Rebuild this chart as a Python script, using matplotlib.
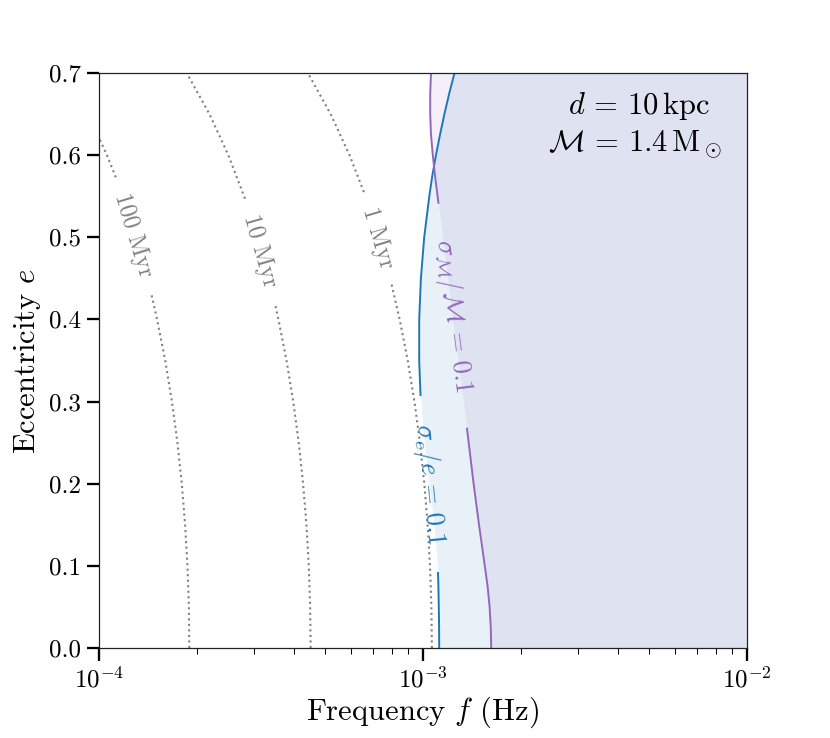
import numpy as np
import matplotlib
matplotlib.use("Agg")
import matplotlib.pyplot as plt

plt.rcParams["font.family"] = "serif"
plt.rcParams["font.serif"] = ["cmr10", "DejaVu Serif"]
plt.rcParams["mathtext.fontset"] = "cm"
plt.rcParams["axes.formatter.use_mathtext"] = True

# ---- data (frequency in mHz, eccentricity) ----
e_100myr = [0, .05, .1, .15, .2, .25, .3, .35, .4, .432, .45, .5, .55, .573, .6, .65, .7]
f_100myr = [0.190, 0.1894, 0.1875, 0.1844, 0.1801, 0.1746, 0.1679, 0.1601, 0.1511,
            0.1449, 0.1412, 0.1302, 0.1184, 0.1127, 0.1058, 0.0926, 0.0787]

e_10myr = [0, .05, .1, .15, .2, .25, .3, .35, .4, .42, .45, .5, .547, .6, .65, .7]
f_10myr = [0.450, 0.4485, 0.4441, 0.4368, 0.4265, 0.4135, 0.3976, 0.3791, 0.3579,
           0.3488, 0.3344, 0.3085, 0.2823, 0.2507, 0.2192, 0.1865]

e_1myr = [0, .05, .1, .15, .2, .25, .3, .35, .4, .444, .5, .555, .6, .65, .7]
f_1myr = [1.065, 1.0615, 1.0510, 1.0337, 1.0094, 0.9785, 0.9410, 0.8971, 0.8471,
          0.7984, 0.7301, 0.6571, 0.5932, 0.5188, 0.4413]

e_sig_e = [0, .025, .05, .075, .0913, .15, .2, .25, .308, .35, .4, .45, .5, .55,
           .575, .6, .625, .65, .675, .7]
f_sig_e = [1.122, 1.1212, 1.1188, 1.1157, 1.1125, 1.0812, 1.0458, 1.0086, 0.9824,
           0.9734, 0.9734, 0.9852, 1.0086, 1.0458, 1.0683, 1.0966, 1.1287, 1.1642,
           1.2047, 1.2510]

e_sig_m = [0, .025, .05, .075, .1, .15, .2, .267, .3, .35, .4, .45, .5, .542, .575,
           .6, .625, .65, .675, .7]
f_sig_m = [1.6236, 1.6190, 1.6053, 1.5827, 1.5515, 1.4889, 1.4328, 1.3671, 1.3326,
           1.2825, 1.2360, 1.1911, 1.1495, 1.1157, 1.0890, 1.0722, 1.0585, 1.0525,
           1.0525, 1.0585]

time_labels = ["100 Myr", "10 Myr", "1 Myr"]
label_sig_e = r"$\sigma_e/e\,=\,0.1$"
label_sig_m = r"$\sigma_\mathcal{M}/\mathcal{M}\,=\,0.1$"
annot_1 = r"$d\,=\,10\,\mathrm{kpc}$"
annot_2 = r"$\mathcal{M}\,=\,1.4\,\mathrm{M}_\odot$"

# label gaps (eccentricity range where the line is broken for its label)
gaps_time = [(0.432, 0.573), (0.42, 0.547), (0.444, 0.555)]
gap_sig_e = (0.0913, 0.308)
gap_sig_m = (0.267, 0.542)

blue = "#1f77b4"
purple = "#9467bd"
grey = "#808080"

fig = plt.figure(figsize=(8.3, 7.38), dpi=100)
ax = fig.add_axes([99 / 830, 1 - 648 / 738, 648 / 830, 575 / 738])
ax.set_xscale("log")
ax.set_xlim(1e-4, 1e-2)
ax.set_ylim(0, 0.7)

# fills
for e, f, c in [(e_sig_e, f_sig_e, blue), (e_sig_m, f_sig_m, purple)]:
    ax.fill_betweenx(np.array(e), np.array(f) * 1e-3, 1e-2, color=c, alpha=0.1, lw=0)


def draw(e, f, gap, label, color, ls, lw, fs):
    e = np.asarray(e, float)
    f = np.asarray(f, float) * 1e-3
    lo = e <= gap[0]
    hi = e >= gap[1]
    ax.plot(f[lo], e[lo], color=color, ls=ls, lw=lw)
    ax.plot(f[hi], e[hi], color=color, ls=ls, lw=lw)
    # label centred in the gap, rotated along the line
    i0 = np.where(lo)[0][-1]
    i1 = np.where(hi)[0][0]
    p0 = ax.transData.transform((f[i0], e[i0]))
    p1 = ax.transData.transform((f[i1], e[i1]))
    ang = np.degrees(np.arctan2(p1[1] - p0[1], p1[0] - p0[0]))
    if ang > 90:
        ang -= 180
    elif ang < -90:
        ang += 180
    mid = (p0 + p1) / 2
    xm, ym = ax.transData.inverted().transform(mid)
    ax.text(xm, ym, label, color=color, fontsize=fs, rotation=ang,
            rotation_mode="anchor", ha="center", va="center")


for e, f, g, lab in zip([e_100myr, e_10myr, e_1myr], [f_100myr, f_10myr, f_1myr],
                        gaps_time, time_labels):
    draw(e, f, g, lab, grey, ":", 1.5, 17)

draw(e_sig_e, f_sig_e, gap_sig_e, label_sig_e, blue, "-", 1.4, 19)
draw(e_sig_m, f_sig_m, gap_sig_m, label_sig_m, purple, "-", 1.4, 19)

ax.text(0.7238, 0.9287, annot_1, transform=ax.transAxes, ha="left", va="baseline",
        fontsize=22)
ax.text(0.6929, 0.8643, annot_2, transform=ax.transAxes, ha="left", va="baseline",
        fontsize=22)

ax.set_yticks(np.arange(0, 0.71, 0.1))
ax.yaxis.set_major_formatter(matplotlib.ticker.FormatStrFormatter("%.1f"))
ax.tick_params(which="major", direction="out", length=9, width=1.65, labelsize=18,
               top=False, right=False, pad=4)
ax.tick_params(which="minor", direction="out", length=4.3, width=0.75,
               top=False, right=False)
for s in ax.spines.values():
    s.set_linewidth(0.9)
    s.set_color("#222222")

ax.set_xlabel(r"Frequency $f$ (Hz)", fontsize=22, labelpad=2)
ax.set_ylabel(r"Eccentricity $e$", fontsize=22, labelpad=4)

fig.savefig("out.png", dpi=100)
